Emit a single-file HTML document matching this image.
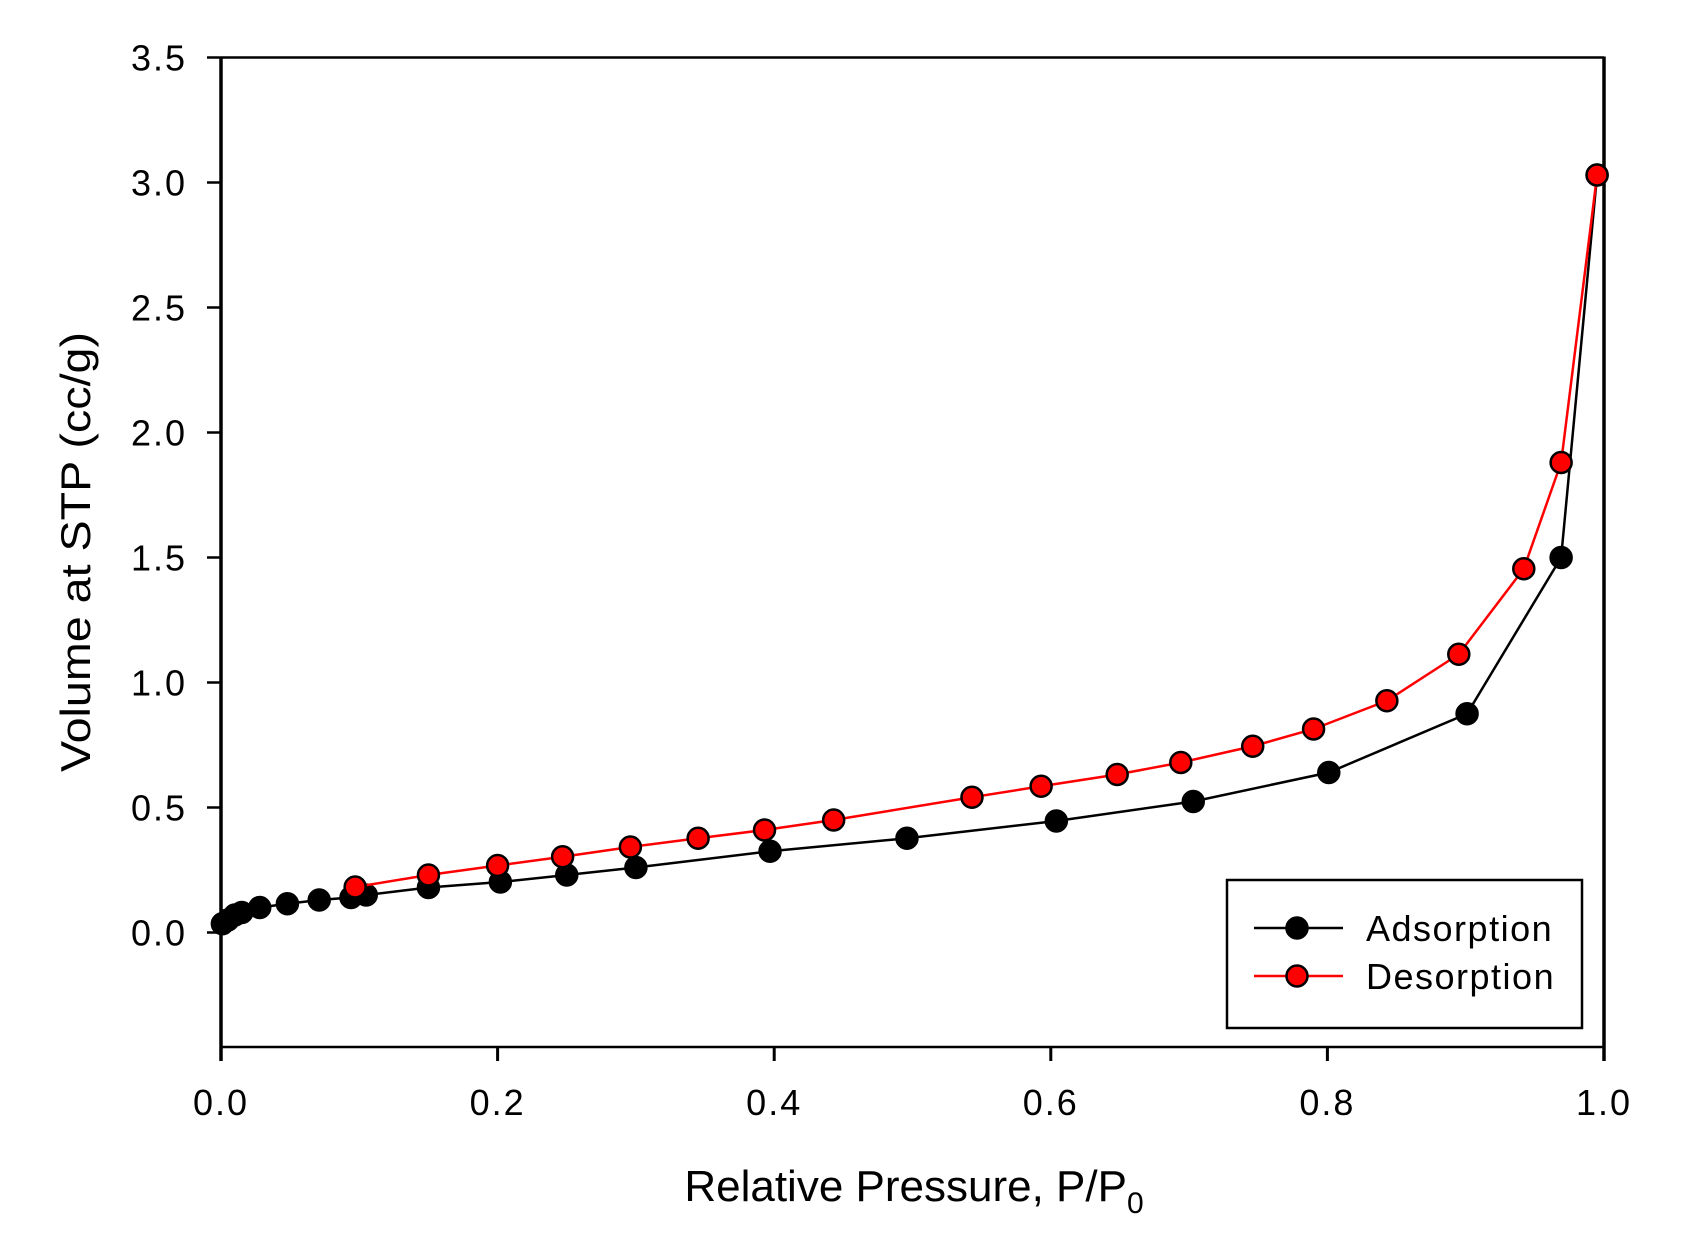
<!DOCTYPE html>
<html><head><meta charset="utf-8"><style>
body{margin:0;background:#fff}
svg{display:block}
text{font-family:"Liberation Sans",Arial,sans-serif;fill:#000}
</style></head><body>
<svg id="chart" width="1702" height="1255" viewBox="0 0 1702 1255">
<rect width="1702" height="1255" fill="#fff"/>
<g id="plot"></g>
</svg>
<script>
const xTicks=[0,0.2,0.4,0.6,0.8,1.0];
const xTickLabels=["0.0","0.2","0.4","0.6","0.8","1.0"];
const yTicks=[0,0.5,1.0,1.5,2.0,2.5,3.0,3.5];
const yTickLabels=["0.0","0.5","1.0","1.5","2.0","2.5","3.0","3.5"];
const adsX=[0.001,0.005,0.010,0.015,0.028,0.048,0.071,0.094,0.105,0.150,0.202,0.250,0.300,0.397,0.496,0.604,0.703,0.801,0.901,0.969,0.995];
const adsY=[0.035,0.05,0.07,0.08,0.10,0.115,0.13,0.14,0.15,0.18,0.202,0.23,0.26,0.325,0.377,0.446,0.524,0.64,0.875,1.50,3.03];
const desX=[0.995,0.969,0.942,0.895,0.843,0.790,0.746,0.694,0.648,0.593,0.543,0.443,0.393,0.345,0.296,0.247,0.200,0.150,0.097];
const desY=[3.03,1.88,1.455,1.113,0.927,0.814,0.745,0.68,0.632,0.585,0.541,0.45,0.41,0.377,0.342,0.303,0.268,0.23,0.182];

const L=221,R=1604,T=57.5,B=1047,Y0=932.5;
const X=v=>L+v*(R-L);
const Y=v=>Y0-v*(Y0-T)/3.5;
const NS="http://www.w3.org/2000/svg";
const g=document.getElementById('plot');
function mk(tag,attrs,parent){const e=document.createElementNS(NS,tag);for(const k in attrs)e.setAttribute(k,attrs[k]);(parent||g).appendChild(e);return e;}

let e;
e=mk('line',{x1:L,y1:T,x2:R,y2:T,stroke:'#000','stroke-width':2.5});


e=mk('line',{x1:L,y1:B,x2:R,y2:B,stroke:'#000','stroke-width':2.5});


e=mk('line',{x1:L,y1:T-1,x2:L,y2:B+14,stroke:'#000','stroke-width':3.5});


e=mk('line',{x1:R,y1:T-1,x2:R,y2:B+14,stroke:'#000','stroke-width':3.5});



xTicks.forEach((v,i)=>{
  const t=mk('line',{x1:X(v),y1:B,x2:X(v),y2:B+14,stroke:'#000','stroke-width':3});
  
  
  const l=mk('text',{x:X(v),y:1115,'font-size':36,'text-anchor':'middle','letter-spacing':2});
  l.textContent=xTickLabels[i];
  
  
});
yTicks.forEach((v,i)=>{
  const t=mk('line',{x1:L-14,y1:Y(v),x2:L,y2:Y(v),stroke:'#000','stroke-width':2.5});
  
  
  const l=mk('text',{x:187,y:Y(v)+13,'font-size':36,'text-anchor':'end','letter-spacing':2});
  l.textContent=yTickLabels[i];
  
  
});

function series(xs,ys,color,fill,name){
  const pts=xs.map((v,i)=>X(v)+','+Y(ys[i])).join(' ');
  const p=mk('polyline',{points:pts,fill:'none',stroke:color,'stroke-width':2.5});
  
  
  xs.forEach((v,i)=>{
    const c=mk('circle',{cx:X(v),cy:Y(ys[i]),r:10.5,fill:fill,stroke:'#000','stroke-width':2.5});
    
    
  });
}
series(adsX,adsY,'#000','#000','adsorption');
series(desX,desY,'#ff0000','#ff0000','desorption');

const lg=mk('g',{});


mk('rect',{x:1227,y:880,width:355,height:148,fill:'#fff',stroke:'#000','stroke-width':2.5},lg);
[[928,'#000','#000','Adsorption'],[976,'#ff0000','#ff0000','Desorption']].forEach(r=>{
  const en=mk('g',{},lg);
  
  
  mk('line',{x1:1254,y1:r[0],x2:1343,y2:r[0],stroke:r[1],'stroke-width':2.5},en);
  mk('circle',{cx:1297,cy:r[0],r:10.5,fill:r[2],stroke:'#000','stroke-width':2.5},en);
  const t=mk('text',{x:1366,y:r[0]+13,'font-size':36,'letter-spacing':1.5},en);
  t.textContent=r[3];
});

const xt=mk('text',{x:914,y:1201,'font-size':44,'text-anchor':'middle'});


xt.innerHTML='Relative Pressure, P/P<tspan font-size="30" dy="12">0</tspan>';
const yt=mk('text',{x:0,y:0,'font-size':42,'text-anchor':'middle',transform:'translate(90,552) rotate(-90)',textLength:440,lengthAdjust:'spacingAndGlyphs'});
yt.textContent='Volume at STP (cc/g)';


</script>
</body></html>
